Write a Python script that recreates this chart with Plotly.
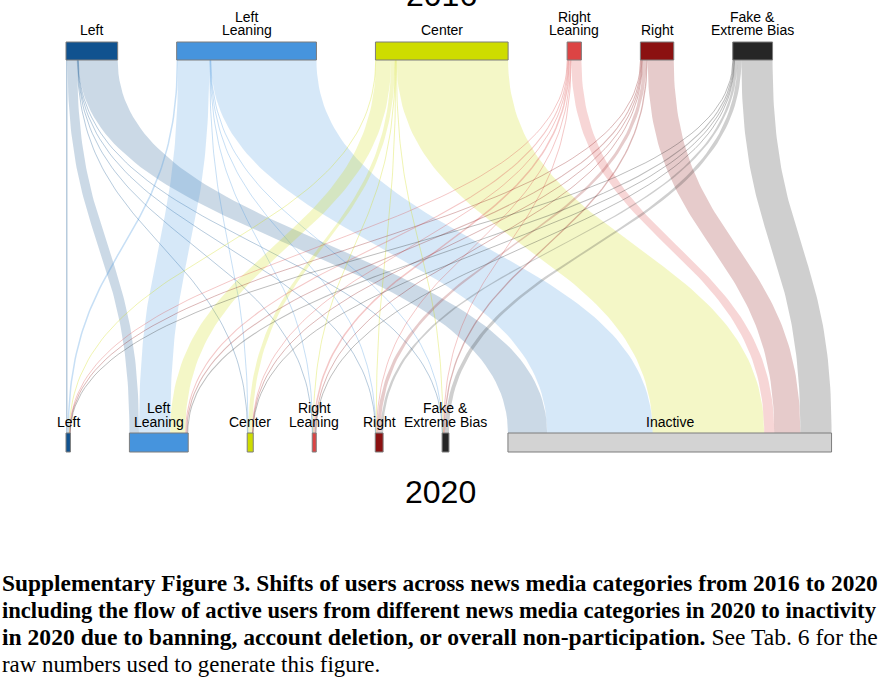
import numpy as np
import plotly.graph_objects as go

# ---------------- data ----------------
CATS_2016 = ["Left", "Left Leaning", "Center", "Right Leaning", "Right", "Fake & Extreme Bias"]
CATS_2020 = ["Left", "Left Leaning", "Center", "Right Leaning", "Right", "Fake & Extreme Bias", "Inactive"]
LABELS_2016 = ["Left", "Left\nLeaning", "Center", "Right\nLeaning", "Right", "Fake &\nExtreme Bias"]
LABELS_2020 = ["Left", "Left\nLeaning", "Center", "Right\nLeaning", "Right", "Fake &\nExtreme Bias", "Inactive"]

# flows from each 2016 category to each 2020 category (relative user counts)
FROM_LEFT = [1.5, 9.5, 0.5, 0.3, 0.3, 0.3, 39]
FROM_LEFT_LEANING = [1.5, 31, 0.6, 0.4, 0.3, 0.3, 105]
FROM_CENTER = [0.5, 15, 4, 0.5, 0.5, 0.5, 111]
FROM_RIGHT_LEANING = [0.3, 1.0, 0.3, 1.5, 0.7, 0.4, 10]
FROM_RIGHT = [0.3, 1.0, 0.3, 0.8, 3.5, 1.3, 26]
FROM_FAKE = [0.3, 1.0, 0.3, 0.5, 2.5, 4.0, 31]
FLOWS = [FROM_LEFT, FROM_LEFT_LEANING, FROM_CENTER, FROM_RIGHT_LEANING, FROM_RIGHT, FROM_FAKE]

COLORS_2016 = [(16, 82, 143), (70, 148, 221), (206, 220, 0), (220, 68, 68), (139, 17, 17), (38, 38, 38)]
COLORS_2020 = COLORS_2016 + [(211, 211, 211)]

CAPTION = [
    "<b>Supplementary Figure 3. Shifts of users across news media categories from 2016 to 2020</b>",
    "<b>including the flow of active users from different news media categories in 2020 to inactivity</b>",
    "<b>in 2020 due to banning, account deletion, or overall non-participation.</b> See Tab. 6 for the",
    "raw numbers used to generate this figure.",
]
CAPTION_SIZES = [23.4, 22.6, 23.6, 22.9]

# ---------------- layout engine ----------------
W, H = 882, 680
SCALE = 1.005   # px per unit
GAP = 59        # px between nodes
X0 = 66
TOP_Y = (42, 60)
BOT_Y = (433, 452)
SANS = "Liberation Sans, Arial, sans-serif"
SERIF = "Liberation Serif, Times New Roman, serif"

flows = np.array(FLOWS, dtype=float)
top_tot = flows.sum(axis=1)
bot_tot = flows.sum(axis=0)


def node_starts(totals):
    starts, x = [], X0
    for t in totals:
        starts.append(x)
        x += t * SCALE + GAP
    return starts


top_start = node_starts(top_tot)
bot_start = node_starts(bot_tot)


def rgba(c, a):
    return f"rgba({c[0]},{c[1]},{c[2]},{a})"


def bez(xa, xb, ya, yb, t):
    ym = (ya + yb) / 2
    x = (1 - t) ** 3 * xa + 3 * (1 - t) ** 2 * t * xa + 3 * (1 - t) * t ** 2 * xb + t ** 3 * xb
    y = (1 - t) ** 3 * ya + 3 * (1 - t) ** 2 * t * ym + 3 * (1 - t) * t ** 2 * ym + t ** 3 * yb
    return x, y


fig = go.Figure()
t = np.linspace(0, 1, 80)
ya, yb = TOP_Y[1], BOT_Y[0]

# within a source node links are ordered by destination; within a destination by source
src_pos = {}
for i in range(len(CATS_2016)):
    off = top_start[i]
    for j in range(len(CATS_2020)):
        src_pos[(i, j)] = off
        off += flows[i, j] * SCALE
dst_pos = {}
for j in range(len(CATS_2020)):
    off = bot_start[j]
    for i in range(len(CATS_2016)):
        dst_pos[(i, j)] = off
        off += flows[i, j] * SCALE

for i in range(len(CATS_2016)):
    for j in range(len(CATS_2020)):
        v = flows[i, j]
        w = v * SCALE
        xa0, xb0 = src_pos[(i, j)], dst_pos[(i, j)]
        if w < 1.6:
            xc, yc = bez(xa0 + w / 2, xb0 + w / 2, ya, yb, t)
            fig.add_trace(go.Scatter(x=xc, y=yc, mode="lines",
                                     line=dict(color=rgba(COLORS_2016[i], 0.3), width=max(w, 1.0)),
                                     hoverinfo="skip", showlegend=False))
        else:
            xl, yl = bez(xa0, xb0, ya, yb, t)
            xr, yr = bez(xa0 + w, xb0 + w, ya, yb, t)
            fig.add_trace(go.Scatter(x=np.concatenate([xl, xr[::-1]]), y=np.concatenate([yl, yr[::-1]]),
                                     mode="lines", fill="toself", line=dict(width=0),
                                     fillcolor=rgba(COLORS_2016[i], 0.22),
                                     hoverinfo="skip", showlegend=False))


def add_node(x0, x1, y0, y1, c):
    fig.add_trace(go.Scatter(x=[x0, x1, x1, x0, x0], y=[y0, y0, y1, y1, y0], mode="lines",
                             fill="toself", fillcolor=rgba(c, 1), line=dict(color="rgb(125,125,125)", width=1),
                             hoverinfo="skip", showlegend=False))


annotations = []


def add_label(text, xc, baseline):
    lines = text.split("\n")
    for k, ln in enumerate(lines):
        b = baseline - (len(lines) - 1 - k) * 13.5
        annotations.append(dict(x=xc, y=b - 4.9, xref="x", yref="y", text=ln, showarrow=False,
                                font=dict(family=SANS, size=14, color="black"),
                                xanchor="center", yanchor="middle"))


for i, c in enumerate(COLORS_2016):
    x0 = top_start[i]
    x1 = x0 + top_tot[i] * SCALE
    add_node(x0, x1, TOP_Y[0], TOP_Y[1], c)
    add_label(LABELS_2016[i], (x0 + x1) / 2, 35)
for j, c in enumerate(COLORS_2020):
    x0 = bot_start[j]
    x1 = x0 + bot_tot[j] * SCALE
    add_node(x0, x1, BOT_Y[0], BOT_Y[1], c)
    add_label(LABELS_2020[j], (x0 + x1) / 2, 426.7)

# year titles (2016 sits partly above the top edge of the picture)
annotations.append(dict(x=0.5, y=1 + 5.0 / H, xref="paper", yref="paper", text="2016", showarrow=False,
                        font=dict(family=SANS, size=32, color="black"), xanchor="center", yanchor="middle"))
annotations.append(dict(x=440, y=492, xref="x", yref="y", text="2020", showarrow=False,
                        font=dict(family=SANS, size=32, color="black"), xanchor="center", yanchor="middle"))

for k, (ln, sz) in enumerate(zip(CAPTION, CAPTION_SIZES)):
    annotations.append(dict(x=0, y=583 + k * 27, xref="x", yref="y", text=ln, showarrow=False,
                            font=dict(family=SERIF, size=sz, color="black"),
                            xanchor="left", yanchor="middle", align="left"))

fig.update_layout(
    width=W, height=H, margin=dict(l=0, r=0, t=0, b=0),
    paper_bgcolor="white", plot_bgcolor="white",
    xaxis=dict(range=[0, W], visible=False, fixedrange=True),
    yaxis=dict(range=[H, 0], visible=False, fixedrange=True),
    annotations=annotations, showlegend=False,
)
fig.write_html("out.html")
